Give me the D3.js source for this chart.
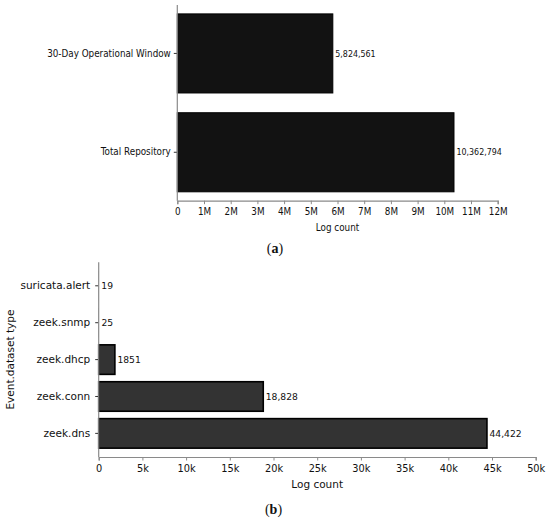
<!DOCTYPE html>
<html><head><meta charset="utf-8">
<script src="https://cdn.jsdelivr.net/npm/d3@7"></script>
<style>
html,body{margin:0;padding:0;background:#fff;}
text{font-family:"DejaVu Sans",sans-serif;fill:#111;}
</style></head>
<body>
<svg id="chart" width="550" height="520"></svg>
<script>
// ---- data (a)
const catsA = ["30-Day Operational Window", "Total Repository"];
const valsA = [5824561, 10362794];
const labelsA = ["5,824,561", "10,362,794"];
const ticksA = [0,1e6,2e6,3e6,4e6,5e6,6e6,7e6,8e6,9e6,10e6,11e6,12e6];
const tickLabelsA = ["0","1M","2M","3M","4M","5M","6M","7M","8M","9M","10M","11M","12M"];
// ---- data (b)
const catsB = ["suricata.alert", "zeek.snmp", "zeek.dhcp", "zeek.conn", "zeek.dns"];
const valsB = [19, 25, 1851, 18828, 44422];
const labelsB = ["19", "25", "1851", "18,828", "44,422"];
const ticksB = [0,5000,10000,15000,20000,25000,30000,35000,40000,45000,50000];
const tickLabelsB = ["0","5k","10k","15k","20k","25k","30k","35k","40k","45k","50k"];

const svg = d3.select("#chart");
const AXIS = "#8a8a8a";

function squeeze(sel, f){
  sel.each(function(){
    const L = this.getComputedTextLength();
    d3.select(this).attr("textLength", L*f).attr("lengthAdjust","spacingAndGlyphs");
  });
}

function panel(o){
  const g = svg.append("g");
  const n = o.cats.length;
  const po = 0.05*(n-0.2);
  const x = d3.scaleLinear().domain(o.xdom).range([o.x0, o.x1]);
  const y = d3.scaleBand().domain(o.cats).range([o.yTop, o.yBot]).paddingInner(0.2).paddingOuter(po);

  // bars
  g.selectAll("rect.bar").data(o.cats).join("rect")
    .attr("x", x(0))
    .attr("y", d => y(d))
    .attr("width", (d,i) => x(o.vals[i]) - x(0))
    .attr("height", y.bandwidth())
    .attr("fill", o.fill)
    .attr("stroke", (d,i) => (x(o.vals[i]) - x(0)) > 2 ? "#000" : "none")
    .attr("stroke-width", o.sw);

  // y axis
  const ya = g.append("g").attr("transform", `translate(${x(0)},0)`)
    .call(d3.axisLeft(y).tickSize(3.5).tickPadding(o.yPad));
  ya.select(".domain").remove();
  ya.selectAll(".tick line").attr("stroke", "#333");
  ya.selectAll(".tick text").attr("font-size", o.yFont).style("font-family","DejaVu Sans").attr("fill","#111");
  g.append("line").attr("x1", x(0)).attr("x2", x(0)).attr("y1", o.yTop).attr("y2", o.yBot)
    .attr("stroke", AXIS).attr("stroke-width", 1.2);

  // x axis
  const xa = g.append("g").attr("transform", `translate(0,${o.yBot})`)
    .call(d3.axisBottom(x).tickValues(o.ticks).tickFormat((d,i) => o.tickLabels[i]).tickSizeOuter(0).tickSize(3.5).tickPadding(o.xPad));
  xa.select(".domain").attr("stroke", AXIS).attr("stroke-width", 1.2);
  xa.selectAll(".tick line").attr("stroke", AXIS);
  xa.selectAll(".tick text").attr("font-size", o.xFont).style("font-family","DejaVu Sans").attr("fill","#111");

  // value labels
  const vl = g.selectAll("text.val").data(o.cats).join("text")
    .attr("x", (d,i) => x(o.vals[i]) + 2.5)
    .attr("y", d => y(d) + y.bandwidth()/2)
    .attr("dy", "0.35em")
    .attr("font-size", o.valFont)
    .text((d,i) => o.labels[i]);

  // x title
  const xt = g.append("text").attr("x", (o.x0+o.x1)/2).attr("y", o.xTitleY).attr("dy","0.35em")
    .attr("text-anchor","middle").attr("font-size", o.titleFont).text("Log count");

  if (o.yTitle){
    g.append("text").attr("transform", `translate(${o.yTitleX},${(o.yTop+o.yBot)/2}) rotate(-90)`)
      .attr("dy","0.35em").attr("text-anchor","middle").attr("font-size", o.titleFont).text(o.yTitle);
  }

  // caption
  const cap = g.append("text").attr("x", o.capX).attr("y", o.capY).attr("dy","0.35em")
    .attr("text-anchor","middle").style("font-family","'Liberation Serif', serif").attr("font-size", 14);
  cap.append("tspan").text("(");
  cap.append("tspan").attr("font-weight","bold").text(o.cap);
  cap.append("tspan").text(")");

  if (o.squeeze){
    squeeze(ya.selectAll(".tick text"), o.squeeze);
    squeeze(xa.selectAll(".tick text"), o.squeeze);
    squeeze(vl, o.squeeze);
    squeeze(xt, o.squeeze);
  }
}

panel({
  cats: catsA, vals: valsA, labels: labelsA, ticks: ticksA, tickLabels: tickLabelsA,
  xdom: [0, 12e6], x0: 177.3, x1: 497.7, yTop: 5, yBot: 200.7,
  fill: "#121212", sw: 1,
  yFont: 10, xFont: 10, valFont: 9, titleFont: 10, yPad: 3, xPad: 3.5,
  xTitleY: 227, capX: 275, capY: 248.5, cap: "a", squeeze: 0.88
});

panel({
  cats: catsB, vals: valsB, labels: labelsB, ticks: ticksB, tickLabels: tickLabelsB,
  xdom: [0, 50000], x0: 98.7, x1: 535.7, yTop: 262.2, yBot: 457,
  fill: "#333333", sw: 1.6,
  yFont: 10.5, xFont: 9.8, valFont: 9.2, titleFont: 10.5, yPad: 5, xPad: 5,
  xTitleY: 484, capX: 273.5, capY: 509, cap: "b",
  yTitle: "Event.dataset type", yTitleX: 10
});
</script>
</body></html>
